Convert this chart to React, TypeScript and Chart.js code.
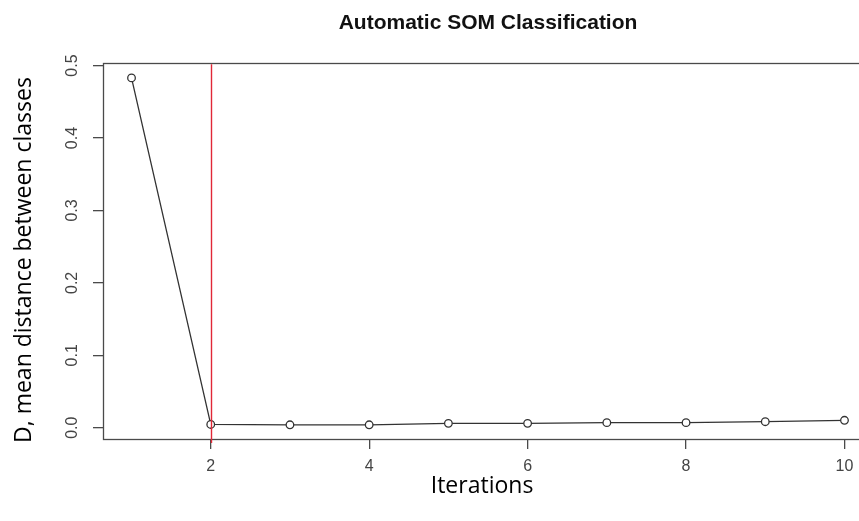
import React, { useEffect, useRef } from "react";
import { Chart, registerables } from "chart.js";

Chart.register(...registerables);

const iterations = [1, 2, 3, 4, 5, 6, 7, 8, 9, 10];
const meanDistance = [0.483, 0.0045, 0.004, 0.004, 0.006, 0.006, 0.007, 0.007, 0.0083, 0.0102];
const selectedIteration = 2;
const xTickValues = [2, 4, 6, 8, 10];
const yTickValues = [0, 0.1, 0.2, 0.3, 0.4, 0.5];
const titleText = "Automatic SOM Classification";
const xTitle = "Iterations  ";
const yTitle = "D, mean distance between classes   ";

const boxAndMarker = {
  id: "boxAndMarker",
  afterDatasetsDraw(chart: any) {
    const { ctx, chartArea, scales } = chart;
    ctx.save();
    ctx.strokeStyle = "#4a4a4a";
    ctx.lineWidth = 1.3;
    ctx.strokeRect(
      Math.round(chartArea.left) + 0.5,
      Math.round(chartArea.top) + 0.5,
      Math.round(chartArea.right - chartArea.left),
      Math.round(chartArea.bottom - chartArea.top)
    );
    const xp = Math.round(scales.x.getPixelForValue(selectedIteration)) + 0.5;
    ctx.strokeStyle = "rgb(225, 40, 55)";
    ctx.lineWidth = 1.4;
    ctx.beginPath();
    ctx.moveTo(xp, chartArea.top + 1);
    ctx.lineTo(xp, chartArea.bottom + 4);
    ctx.stroke();
    ctx.restore();
  },
};

export default function App() {
  const ref = useRef<HTMLCanvasElement | null>(null);
  useEffect(() => {
    if (!ref.current) return;
    const chart = new Chart(ref.current, {
      type: "line",
      data: {
        datasets: [
          {
            data: iterations.map((x, i) => ({ x, y: meanDistance[i] })),
            borderColor: "#333333",
            borderWidth: 1.3,
            pointRadius: 3.8,
            pointBorderWidth: 1.3,
            pointBorderColor: "#333333",
            pointBackgroundColor: "#ffffff",
            tension: 0,
            fill: false,
          },
        ],
      },
      options: {
        animation: false,
        responsive: false,
        layout: { padding: { left: 0, right: 27, top: 0, bottom: 0 } },
        plugins: {
          legend: { display: false },
          tooltip: { enabled: false },
          title: {
            display: true,
            text: titleText,
            fullSize: false,
            color: "#111111",
            font: { family: "Liberation Sans, Arial, sans-serif", size: 21, weight: "bold" },
            padding: { top: 11, bottom: 27 },
          },
        },
        scales: {
          x: {
            type: "linear",
            min: 0.64,
            max: 10.36,
            afterFit: (s: any) => {
              s.height = 82;
            },
            afterBuildTicks: (s: any) => {
              s.ticks = xTickValues.map((v) => ({ value: v }));
            },
            ticks: {
              includeBounds: false,
              color: "#444444",
              padding: 8,
              font: { family: "Liberation Sans, Arial, sans-serif", size: 16 },
              callback: (v: any) => String(v),
              maxRotation: 0,
              minRotation: 0,
            },
            grid: { drawOnChartArea: false, drawTicks: true, tickLength: 10, color: "#4a4a4a", lineWidth: 1.3 },
            border: { display: false },
            title: {
              display: true,
              text: xTitle,
              color: "#000000",
              font: { family: "Open Sans, sans-serif", size: 23 },
              padding: { top: 0, bottom: 21 },
            },
          },
          y: {
            type: "linear",
            min: -0.0156,
            max: 0.5033,
            afterFit: (s: any) => {
              s.width = 103;
            },
            afterBuildTicks: (s: any) => {
              s.ticks = yTickValues.map((v) => ({ value: v }));
            },
            ticks: {
              includeBounds: false,
              color: "#444444",
              padding: 9,
              crossAlign: "center",
              minRotation: 90,
              maxRotation: 90,
              font: { family: "Liberation Sans, Arial, sans-serif", size: 16 },
              callback: (v: any) => Number(v).toFixed(1),
            },
            grid: { drawOnChartArea: false, drawTicks: true, tickLength: 10, color: "#4a4a4a", lineWidth: 1.3 },
            border: { display: false },
            title: {
              display: true,
              text: yTitle,
              color: "#000000",
              font: { family: "Open Sans, sans-serif", size: 23 },
              padding: { top: 11, bottom: 0 },
            },
          },
        },
      },
      plugins: [boxAndMarker],
    } as any);
    return () => chart.destroy();
  }, []);
  return (
    <div style={{ position: "absolute", left: 0, top: 0, width: 859, height: 521, overflow: "hidden", background: "#ffffff" }}>
      <canvas ref={ref} width={900} height={521} style={{ display: "block" }} />
    </div>
  );
}
